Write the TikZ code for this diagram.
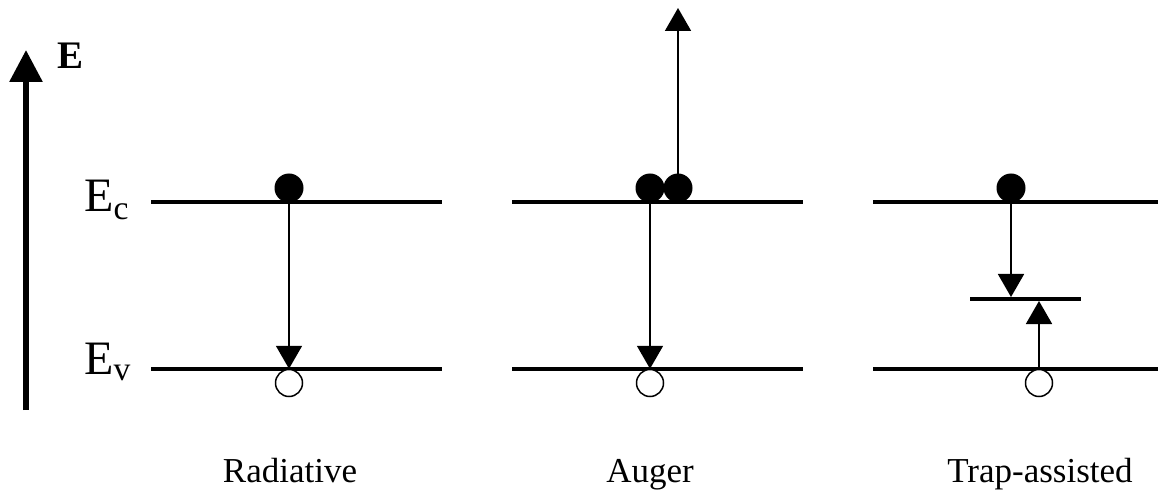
\documentclass[tikz,border=0pt]{standalone}
\usepackage{fontspec}
\setmainfont{Liberation Serif}
\usetikzlibrary{arrows.meta}
\tikzset{
  level/.style={line width=3.5pt},
  electron/.style={circle, fill=black, inner sep=0pt, minimum size=29pt},
  hole/.style={circle, draw=black, line width=1.5pt, fill=white, inner sep=0pt, minimum size=27pt},
  transition/.style={line width=1.8pt, -{Triangle[length=23pt,width=26pt]}},
  energyaxis/.style={line width=6pt, -{Triangle[length=32pt,width=32pt]}},
  levelname/.style={anchor=base west, inner sep=0pt, font=\fontsize{48}{52}\selectfont},
  caption/.style={anchor=base, inner sep=0pt, font=\fontsize{35}{40}\selectfont},
}
\begin{document}
\begin{tikzpicture}[x=1pt, y=-1pt]
\useasboundingbox (0,0) rectangle (1158,502);

% energy axis
\coordinate (axb) at (26,410);
\coordinate (axt) at (26,50);
\draw[energyaxis] (axb) -- (axt);
\node[anchor=base west, inner sep=0pt, font=\fontsize{39}{43}\selectfont\bfseries] (elabel) at (57,69) {E};

% level names
\node[levelname] (ec) at (84,212) {E\textsubscript{c}};
\node[levelname] (ev) at (84,374) {E\textsubscript{v}};

% band edges for the three panels
\foreach \xa/\xb/\n in {151/442/1, 512/803/2, 873/1160/3} {
  \coordinate (c\n a) at (\xa,202);
  \coordinate (c\n b) at (\xb,202);
  \coordinate (v\n a) at (\xa,369);
  \coordinate (v\n b) at (\xb,369);
  \draw[level] (c\n a) -- (c\n b);
  \draw[level] (v\n a) -- (v\n b);
}

% radiative
\node[electron] (e1) at (289,188) {};
\node[hole] (h1) at (289,383) {};
\draw[transition] (e1.center) -- (h1.north);

% Auger
\node[hole] (h2) at (650,383) {};
\coordinate (out) at (678,8);
\draw[transition] (650,188) -- (h2.north);
\draw[transition] (678,188) -- (out);
\node[electron] (e2a) at (650,188) {};
\node[electron] (e2b) at (678,188) {};

% trap-assisted
\coordinate (ta) at (970,299);
\coordinate (tb) at (1081,299);
\draw[level] (ta) -- (tb);
\coordinate (tdown) at (1011,297);
\coordinate (tup) at (1039,301);
\node[electron] (e3) at (1011,188) {};
\node[hole] (h3) at (1039,383) {};
\draw[transition] (e3.center) -- (tdown);
\draw[transition] (h3.north) -- (tup);

% captions
\node[caption] (r) at (290,482) {Radiative};
\node[caption] (a) at (650,482) {Auger};
\node[caption] (t) at (1040,482) {Trap-assisted};
\end{tikzpicture}
\end{document}
